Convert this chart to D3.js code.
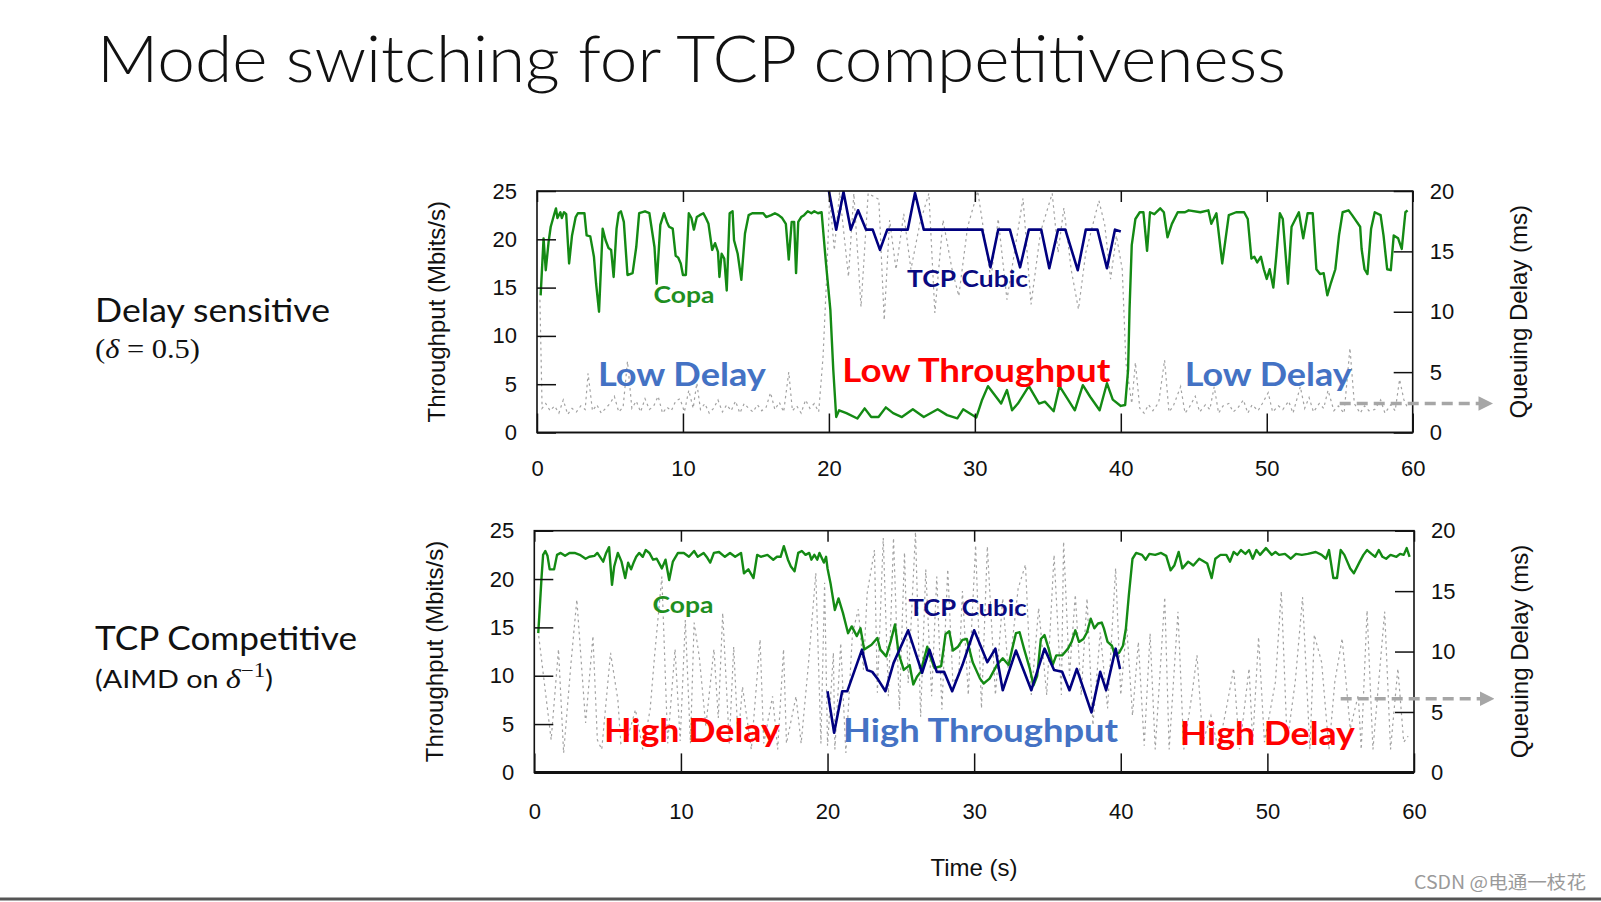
<!DOCTYPE html>
<html><head><meta charset="utf-8">
<script src="https://cdn.jsdelivr.net/npm/d3@7"></script>
<style>
html,body{margin:0;padding:0;background:#fff;}
svg{display:block;}
</style></head><body>
<svg id="c" width="1601" height="902"></svg>
<script>
// ---------- data ----------
const timeTicks = [0, 10, 20, 30, 40, 50, 60];
const throughputTicks = [0, 5, 10, 15, 20, 25];
const delayTicks = [0, 5, 10, 15, 20];

// Top panel (Delay sensitive): [time s, throughput Mbit/s]
const topCopa = [[0.25,14.2],[0.45,20.1],[0.6,16.8],[0.8,19.8],[0.94,21.3],[1.2,22.7],[1.3,23.2],[1.4,22.2],[1.6,22.8],[1.7,22.2],[1.85,22.8],[2.0,22.6],[2.2,17.5],[2.4,20.4],[2.65,22.3],[2.8,22.7],[3.25,22.7],[3.4,20.4],[3.65,20.3],[3.9,18.2],[4.05,15.4],[4.25,12.5],[4.5,21.1],[4.7,19.9],[4.9,19.1],[5.08,18.9],[5.25,16.1],[5.45,21.1],[5.6,22.7],[5.75,22.9],[5.95,21.8],[6.2,16.3],[6.55,16.5],[6.8,19.2],[7.0,22.7],[7.4,22.9],[7.7,22.7],[8.05,19.2],[8.2,15.4],[8.45,21.5],[8.7,22.7],[8.9,21.8],[9.05,21.3],[9.3,21.1],[9.5,18.3],[9.68,18.1],[9.85,17.5],[10.0,16.3],[10.2,16.3],[10.4,22.7],[10.58,22.2],[10.75,21.0],[10.95,22.3],[11.15,22.5],[11.4,22.7],[11.57,22.2],[11.75,21.6],[12.0,18.9],[12.2,19.6],[12.4,18.7],[12.5,16.1],[12.65,18.5],[12.83,18.0],[13.0,14.7],[13.2,22.7],[13.4,22.9],[13.5,19.9],[13.75,18.5],[14.0,15.8],[14.25,20.6],[14.5,22.5],[14.75,22.7],[15.5,22.7],[15.7,22.3],[16.05,22.5],[16.3,22.7],[16.55,22.5],[16.8,22.2],[17.05,21.6],[17.25,17.9],[17.45,21.8],[17.62,21.8],[17.75,16.5],[17.9,21.8],[18.1,22.3],[18.3,22.5],[18.55,22.9],[18.8,22.7],[19.0,22.9],[19.25,22.7],[19.5,22.8],[19.8,17.5],[20.1,12.7],[20.3,6.5],[20.5,1.6],[20.7,2.3],[21.2,2.0],[21.95,1.45],[22.45,2.5],[22.9,1.6],[23.4,1.6],[23.9,2.6],[24.4,2.0],[25.0,1.6],[25.75,2.4],[26.5,1.6],[27.45,2.4],[28.1,1.8],[28.8,1.46],[29.2,2.4],[30.1,1.56],[30.5,3.4],[30.9,4.8],[31.1,4.4],[31.8,3.0],[32.2,4.4],[32.55,2.3],[32.95,3.0],[33.7,4.8],[34.4,3.0],[34.8,3.2],[35.4,2.2],[35.8,4.8],[36.85,2.3],[37.4,4.9],[37.9,3.7],[38.55,2.3],[39.05,5.1],[39.45,3.4],[40.0,2.75],[40.3,2.85],[40.5,6.5],[40.6,12.8],[40.75,19.4],[41.0,22.1],[41.3,22.8],[41.55,22.8],[41.8,18.8],[42.0,22.8],[42.3,22.6],[42.7,23.2],[42.95,22.8],[43.2,20.2],[43.5,21.6],[43.9,22.8],[44.4,22.8],[44.65,23.0],[45.45,22.8],[46.0,23.0],[46.2,21.6],[46.55,22.7],[46.95,17.5],[47.4,22.5],[47.9,22.8],[48.45,22.8],[48.7,22.1],[48.95,18.0],[49.15,18.2],[49.35,17.6],[49.6,18.2],[49.8,16.9],[50.0,15.9],[50.2,16.9],[50.45,15.0],[50.65,18.2],[50.9,22.7],[51.1,22.1],[51.45,15.4],[51.7,21.3],[52.2,22.8],[52.5,20.1],[52.8,22.7],[53.15,22.7],[53.4,16.9],[53.65,16.4],[53.9,16.5],[54.15,14.2],[54.4,15.5],[54.7,16.9],[54.95,20.4],[55.2,22.8],[55.6,23.0],[55.85,22.5],[56.4,21.3],[56.5,19.0],[56.7,16.9],[56.9,16.4],[57.15,21.1],[57.4,22.8],[57.8,22.5],[58.0,20.4],[58.25,16.9],[58.5,16.8],[58.7,20.4],[59.0,20.1],[59.25,19.0],[59.5,22.8],[59.65,23.0]];

const topCubic = [[20.0,25.0],[20.5,21.0],[21.0,24.9],[21.5,21.0],[22.0,23.0],[22.55,21.0],[23.0,21.0],[23.5,18.9],[24.0,21.0],[25.4,21.0],[25.9,24.8],[26.5,21.0],[30.5,21.0],[31.07,17.1],[31.6,21.0],[32.4,21.0],[33.1,17.1],[33.7,21.0],[34.55,21.0],[35.1,17.0],[35.7,21.0],[36.2,21.0],[37.05,16.8],[37.6,21.0],[38.4,21.0],[39.05,17.0],[39.6,21.0],[40.0,20.8]];

// [time s, queuing delay ms]
const topDelay = [[0.2,11.0],[0.35,2.0],[0.6,2.4],[0.9,1.8],[1.2,2.2],[1.5,1.6],[1.8,2.7],[2.1,1.5],[2.4,2.0],[2.7,1.7],[3.0,2.2],[3.3,1.9],[3.5,4.9],[3.8,1.8],[4.1,2.3],[4.4,1.6],[4.7,2.0],[5.0,2.4],[5.3,3.0],[5.6,1.7],[5.9,2.1],[6.2,5.9],[6.5,2.0],[6.8,2.6],[7.1,1.7],[7.4,2.8],[7.7,1.9],[8.0,2.2],[8.3,3.0],[8.6,1.6],[8.9,2.1],[9.2,1.8],[9.5,2.6],[9.8,2.8],[10.1,1.7],[10.4,3.5],[10.7,2.0],[10.95,4.1],[11.2,1.9],[11.5,2.4],[11.8,1.6],[12.1,2.0],[12.4,2.7],[12.7,1.7],[13.0,2.3],[13.3,1.8],[13.6,2.6],[13.9,1.6],[14.2,2.4],[14.5,2.0],[14.8,1.7],[15.1,2.3],[15.4,1.8],[15.7,2.1],[16.0,3.3],[16.3,1.9],[16.6,2.5],[16.9,1.7],[17.25,5.0],[17.5,1.8],[17.8,2.2],[18.1,1.6],[18.4,2.7],[18.7,2.0],[19.0,2.4],[19.3,1.7],[19.6,6.3],[19.85,13.0],[20.05,19.5],[20.37,15.1],[20.73,19.9],[21.34,12.9],[21.71,19.8],[22.2,10.4],[22.69,19.8],[23.42,19.3],[23.79,9.3],[24.16,17.6],[24.6,13.5],[25.13,18.1],[25.62,13.5],[26.23,17.3],[26.85,19.8],[27.26,9.9],[27.82,17.6],[28.44,13.5],[28.9,11.3],[29.5,17.0],[30.2,20.0],[31.1,12.7],[31.6,17.7],[32.2,11.0],[33.3,19.4],[33.85,10.6],[34.5,16.6],[35.3,19.8],[35.7,14.9],[36.1,18.6],[36.6,13.5],[37.1,10.2],[37.6,14.9],[38.5,19.2],[38.9,17.2],[39.3,12.7],[39.7,16.3],[40.1,13.5],[40.35,5.8],[40.75,2.4],[41.0,5.8],[41.3,2.0],[41.6,1.6],[41.9,2.3],[42.2,1.8],[42.6,2.5],[43.0,6.0],[43.3,1.7],[43.6,2.2],[44.1,3.8],[44.4,1.6],[44.7,2.1],[45.1,3.0],[45.4,1.7],[45.8,2.3],[46.1,1.9],[46.4,3.8],[46.7,1.6],[47.0,2.2],[47.4,2.4],[47.7,1.7],[48.0,2.0],[48.4,2.7],[48.7,1.6],[49.0,2.3],[49.4,1.8],[49.7,2.4],[50.1,3.3],[50.4,1.7],[50.8,2.2],[51.1,1.9],[51.5,2.6],[51.8,1.6],[52.3,3.8],[52.6,2.0],[52.9,2.9],[53.2,1.7],[53.6,2.4],[53.9,2.0],[54.2,3.5],[54.6,1.8],[54.9,2.2],[55.3,1.6],[55.7,7.0],[56.0,2.4],[56.4,1.6],[56.7,2.2],[57.0,1.8],[57.4,1.9],[57.8,2.7],[58.1,1.6],[58.5,2.3],[58.8,1.8],[59.1,4.4],[59.4,2.7],[59.7,1.9]];

// Bottom panel (TCP competitive)
const botCopa = [[0.27,14.4],[0.5,20.3],[0.6,22.5],[0.75,22.9],[0.9,22.4],[1.05,21.0],[1.35,21.0],[1.55,22.5],[1.8,22.7],[2.1,22.4],[2.4,22.7],[2.75,22.7],[3.1,22.5],[3.5,22.1],[3.75,22.3],[4.1,22.4],[4.3,22.7],[4.7,21.8],[4.9,22.7],[5.1,23.3],[5.3,19.4],[5.45,21.3],[5.7,22.7],[5.95,21.8],[6.2,20.1],[6.4,21.7],[6.6,21.0],[6.8,21.8],[6.95,22.3],[7.15,22.7],[7.4,22.3],[7.6,23.0],[7.85,22.7],[8.1,22.0],[8.35,22.1],[8.7,21.1],[8.95,22.0],[9.2,19.9],[9.45,21.8],[9.8,22.7],[10.2,22.7],[10.55,22.3],[10.9,22.9],[11.15,22.3],[11.55,22.7],[11.8,22.2],[12.0,21.7],[12.25,22.7],[12.6,22.8],[13.0,22.3],[13.35,22.7],[13.7,22.3],[14.1,22.7],[14.3,20.6],[14.6,21.0],[14.95,20.1],[15.2,22.5],[15.45,22.3],[15.9,22.5],[16.3,22.0],[16.55,22.3],[16.8,22.3],[17.02,23.4],[17.3,22.0],[17.5,21.3],[17.75,20.8],[18.0,22.7],[18.25,22.9],[18.5,22.5],[18.75,22.7],[18.9,22.0],[19.1,22.5],[19.3,22.0],[19.45,22.7],[19.75,21.7],[19.9,22.3],[20.0,21.1],[20.2,19.6],[20.5,16.8],[20.75,18.0],[21.05,16.5],[21.4,14.4],[21.65,15.1],[22.0,14.1],[22.25,14.9],[22.5,12.7],[23.0,13.2],[23.4,13.9],[23.6,12.7],[24.0,12.0],[24.3,13.5],[24.6,15.3],[24.85,12.3],[25.2,10.6],[25.6,11.1],[25.85,9.1],[26.1,9.9],[26.35,10.4],[26.8,13.0],[27.0,12.0],[27.3,10.8],[27.75,11.0],[28.05,14.3],[28.3,14.6],[28.55,12.6],[28.9,13.0],[29.2,13.7],[29.5,13.8],[29.9,11.4],[30.4,9.7],[30.65,9.2],[31.05,9.7],[31.55,11.1],[31.95,11.8],[32.35,11.1],[32.6,12.8],[32.85,14.4],[33.1,14.5],[33.4,12.8],[33.8,10.7],[34.05,9.0],[34.3,10.0],[34.55,13.8],[34.8,14.2],[35.1,12.7],[35.35,11.1],[35.6,12.1],[36.0,12.1],[36.4,12.8],[36.65,13.5],[36.9,14.7],[37.15,13.5],[37.45,13.8],[37.7,14.5],[37.95,15.9],[38.2,14.9],[38.45,15.4],[38.7,15.5],[38.85,14.9],[39.1,13.5],[39.4,13.1],[39.6,12.1],[39.9,12.4],[40.15,13.1],[40.35,14.9],[40.55,18.3],[40.8,22.1],[41.05,22.7],[41.45,22.5],[41.7,22.0],[41.95,22.6],[42.35,22.5],[42.75,22.7],[43.1,22.4],[43.4,20.9],[43.65,21.4],[43.95,22.8],[44.2,21.1],[44.6,21.8],[44.95,21.4],[45.35,22.1],[45.9,21.6],[46.2,20.1],[46.45,22.1],[46.8,22.5],[47.2,22.5],[47.45,21.8],[47.7,22.8],[47.95,22.5],[48.2,23.0],[48.5,22.6],[48.75,23.0],[49.0,22.1],[49.25,23.0],[49.5,22.5],[49.9,23.2],[50.3,22.5],[50.55,22.8],[50.8,22.5],[51.2,22.6],[51.6,22.1],[51.95,22.6],[52.35,22.5],[52.75,22.6],[53.3,22.8],[53.7,22.5],[54.0,22.1],[54.2,23.0],[54.5,20.1],[54.75,20.1],[55.0,23.0],[55.25,22.5],[55.65,21.1],[55.9,20.6],[56.3,21.8],[56.55,22.5],[56.8,23.0],[57.1,22.6],[57.35,22.3],[57.6,23.0],[57.85,22.3],[58.1,22.1],[58.4,22.5],[58.8,22.3],[59.05,22.6],[59.3,22.5],[59.5,23.2],[59.7,22.3]];

const botCubic = [[20.0,8.4],[20.45,4.1],[21.0,8.4],[21.35,8.4],[22.35,12.7],[22.7,10.6],[23.05,10.4],[23.45,9.6],[23.95,8.4],[24.5,11.3],[25.5,14.7],[26.45,10.3],[26.95,12.7],[27.45,10.4],[27.95,10.4],[28.5,8.4],[29.2,11.1],[30.0,14.7],[30.9,11.4],[31.45,12.8],[31.95,8.5],[32.85,12.6],[33.9,8.5],[34.8,12.8],[35.45,10.6],[36.0,10.4],[36.5,8.5],[37.0,10.7],[38.0,6.2],[38.6,10.4],[39.0,8.5],[39.65,12.8],[39.95,10.7]];

const botDelay = [[0.3,11.3],[1.15,2.7],[1.65,10.2],[2.0,1.6],[2.5,9.0],[2.9,14.3],[3.5,4.1],[4.0,11.3],[4.3,2.7],[4.6,1.9],[5.2,9.9],[5.7,6.0],[5.9,2.4],[6.4,3.0],[6.9,5.2],[7.4,1.9],[7.9,5.2],[8.2,9.6],[8.7,16.2],[9.1,2.4],[9.6,10.2],[9.95,2.6],[10.3,12.6],[10.65,2.4],[10.9,12.4],[11.25,9.6],[11.7,3.8],[12.25,10.2],[12.55,4.5],[12.85,13.2],[13.3,2.4],[13.6,10.4],[13.9,2.7],[14.2,7.1],[14.8,1.9],[15.4,11.0],[15.65,2.4],[16.25,6.3],[16.6,1.9],[17.0,10.2],[17.2,2.4],[17.85,6.3],[18.2,2.4],[18.7,9.0],[19.2,16.5],[19.55,2.4],[19.8,15.7],[20.0,2.2],[20.4,9.9],[20.5,1.9],[20.9,10.7],[21.25,1.6],[21.7,11.5],[22.1,13.5],[22.45,8.5],[22.7,14.8],[23.2,18.4],[23.4,6.6],[23.8,19.4],[24.15,6.3],[24.5,19.4],[24.9,5.2],[25.25,18.2],[25.5,7.4],[26.0,19.9],[26.35,4.6],[26.7,16.8],[27.1,6.3],[27.45,16.2],[27.8,5.2],[28.2,16.8],[28.55,7.4],[28.95,8.0],[29.2,15.0],[29.6,6.4],[30.1,18.8],[30.5,5.3],[30.9,18.7],[31.45,6.4],[31.95,14.4],[32.35,8.0],[33.0,15.2],[33.5,17.2],[33.9,6.4],[34.4,13.6],[34.95,6.4],[35.45,18.0],[35.95,6.4],[36.1,19.1],[36.5,8.0],[36.9,14.7],[37.3,6.4],[37.7,14.4],[38.1,3.9],[38.6,11.6],[39.1,5.3],[39.65,16.9],[40.0,6.4],[40.4,12.2],[40.8,4.7],[41.2,10.8],[41.6,2.2],[42.0,11.5],[42.35,1.9],[43.0,14.5],[43.3,1.9],[43.9,13.3],[44.3,1.9],[44.85,6.4],[45.2,9.7],[45.6,2.5],[46.15,4.7],[46.65,1.9],[47.2,5.3],[47.7,8.6],[48.1,1.9],[48.75,8.6],[49.0,2.5],[49.4,11.2],[49.8,2.5],[50.55,7.5],[50.95,15.0],[51.35,2.5],[51.9,7.5],[52.4,14.5],[52.9,1.9],[53.2,11.4],[53.7,9.1],[54.2,1.9],[54.6,7.5],[55.1,11.1],[55.65,3.6],[56.2,6.4],[56.4,1.9],[56.8,13.4],[57.2,1.9],[58.0,13.3],[58.4,1.9],[58.9,8.6],[59.3,2.5],[59.6,3.0]];

// ---------- drawing ----------
const svg = d3.select("#c");
const tickFont = "'Liberation Sans', Arial, sans-serif";
const calibri = "Lato, 'Open Sans', sans-serif";

svg.append("text").attr("x", 97).attr("y", 82)
  .attr("font-family", calibri).attr("font-weight", 300).attr("font-size", 66)
  .attr("textLength", 1189).attr("lengthAdjust", "spacingAndGlyphs")
  .attr("fill", "#111").text("Mode switching for TCP competitiveness");

// left descriptions
svg.append("text").attr("x", 95).attr("y", 322).attr("font-family", calibri).attr("font-size", 33)
  .attr("textLength", 235).attr("lengthAdjust", "spacingAndGlyphs").attr("fill", "#111").text("Delay sensitive");
const d1 = svg.append("text").attr("x", 95).attr("y", 358).attr("font-family", "'Liberation Serif', serif")
  .attr("font-size", 27).attr("textLength", 105).attr("lengthAdjust", "spacingAndGlyphs").attr("fill", "#111");
d1.append("tspan").text("(");
d1.append("tspan").attr("font-style", "italic").text("δ");
d1.append("tspan").text(" = 0.5)");

svg.append("text").attr("x", 95).attr("y", 650).attr("font-family", calibri).attr("font-size", 33)
  .attr("textLength", 262).attr("lengthAdjust", "spacingAndGlyphs").attr("fill", "#111").text("TCP Competitive");
const d2 = svg.append("text").attr("x", 95).attr("y", 688).attr("font-size", 25)
  .attr("textLength", 178).attr("lengthAdjust", "spacingAndGlyphs").attr("fill", "#111");
d2.append("tspan").attr("font-family", calibri).text("(AIMD on ");
d2.append("tspan").attr("font-family", "'Liberation Serif', serif").attr("font-style", "italic").attr("font-size", 28).text("δ");
d2.append("tspan").attr("font-family", "'Liberation Serif', serif").attr("font-size", 20).attr("dy", -11).text("−1");
d2.append("tspan").attr("font-family", calibri).attr("dy", 11).text(")");

const panels = [
  { box: {x0: 537, x1: 1412.7, y0: 191, y1: 432.5}, copa: topCopa, cubic: topCubic, delay: topDelay,
    xPad: 28, bottomStroke: 1.6, arrowDelay: 2.4,
    labels: [
      {t: 10.07, v: 13.4, text: "Copa", color: "#1f8f1f", size: 23, w: 61},
      {t: 29.5, v: 15.07, text: "TCP Cubic", color: "#0a0a80", size: 23, w: 121},
      {t: 9.93, v: 4.83, text: "Low Delay", color: "#4472C4", size: 32, w: 168},
      {t: 30.1, v: 5.25, text: "Low Throughput", color: "#FF0000", size: 32, w: 268},
      {t: 50.1, v: 4.83, text: "Low Delay", color: "#4472C4", size: 32, w: 167}
    ]},
  { box: {x0: 534.3, x1: 1414, y0: 530.7, y1: 772.4}, copa: botCopa, cubic: botCubic, delay: botDelay,
    xPad: 31, bottomStroke: 3, arrowDelay: 6.1,
    labels: [
      {t: 10.14, v: 16.5, text: "Copa", color: "#1f8f1f", size: 23, w: 61},
      {t: 29.55, v: 16.2, text: "TCP Cubic", color: "#0a0a80", size: 23, w: 118},
      {t: 10.75, v: 3.18, text: "High Delay", color: "#FF0000", size: 32, w: 176},
      {t: 30.44, v: 3.14, text: "High Throughput", color: "#4472C4", size: 32, w: 275},
      {t: 50.0, v: 2.83, text: "High Delay", color: "#FF0000", size: 32, w: 175}
    ]}
];

const defs = svg.append("defs");
defs.append("marker").attr("id", "ah").attr("viewBox", "0 0 10 10").attr("refX", 9).attr("refY", 5)
  .attr("markerWidth", 4.2).attr("markerHeight", 4.2).attr("markerUnits", "strokeWidth").attr("orient", "auto")
  .append("path").attr("d", "M0,0 L10,5 L0,10 z").attr("fill", "#a6a6a6");

panels.forEach((p, i) => {
  const b = p.box;
  const x = d3.scaleLinear().domain([0, 60]).range([b.x0, b.x1]);
  const yT = d3.scaleLinear().domain([0, 25]).range([b.y1, b.y0]);
  const yD = d3.scaleLinear().domain([0, 20]).range([b.y1, b.y0]);
  const g = svg.append("g");

  defs.append("clipPath").attr("id", "clip" + i).append("rect")
    .attr("x", b.x0).attr("y", b.y0).attr("width", b.x1 - b.x0).attr("height", b.y1 - b.y0);

  const plot = g.append("g").attr("clip-path", `url(#clip${i})`);
  plot.append("path").datum(p.delay)
    .attr("d", d3.line().x(d => x(d[0])).y(d => yD(d[1])))
    .attr("fill", "none").attr("stroke", "#a2a2a2").attr("stroke-width", 1.2).attr("stroke-dasharray", "2.5,3.5");
  plot.append("path").datum(p.copa)
    .attr("d", d3.line().x(d => x(d[0])).y(d => yT(d[1])))
    .attr("fill", "none").attr("stroke", "#148a14").attr("stroke-width", 2.4).attr("stroke-linejoin", "round");
  plot.append("path").datum(p.cubic)
    .attr("d", d3.line().x(d => x(d[0])).y(d => yT(d[1])))
    .attr("fill", "none").attr("stroke", "#00007f").attr("stroke-width", 2.6).attr("stroke-linejoin", "round");

  // axes
  const styleAxis = sel => {
    sel.select(".domain").remove();
    sel.selectAll(".tick line").attr("stroke", "#111").attr("stroke-width", 1.5);
    sel.selectAll("text").attr("fill", "#111");
    sel.attr("font-family", tickFont).attr("font-size", 22);
  };
  g.append("g").attr("transform", `translate(${b.x0},0)`)
    .call(d3.axisLeft(yT).tickValues(throughputTicks).tickSize(-19).tickSizeOuter(0).tickPadding(20)).call(styleAxis);
  g.append("g").attr("transform", `translate(${b.x1},0)`)
    .call(d3.axisRight(yD).tickValues(delayTicks).tickSize(-19).tickSizeOuter(0).tickPadding(17)).call(styleAxis);
  g.append("g").attr("transform", `translate(0,${b.y1})`)
    .call(d3.axisBottom(x).tickValues(timeTicks).tickSize(-19).tickSizeOuter(0).tickPadding(p.xPad)).call(styleAxis);
  g.append("g").attr("transform", `translate(0,${b.y0})`)
    .call(d3.axisTop(x).tickValues(timeTicks).tickSize(-11).tickSizeOuter(0).tickFormat("")).call(styleAxis);

  // frame
  g.append("rect").attr("x", b.x0).attr("y", b.y0).attr("width", b.x1 - b.x0).attr("height", b.y1 - b.y0)
    .attr("fill", "none").attr("stroke", "#111").attr("stroke-width", 1.6);
  g.append("line").attr("x1", b.x0).attr("x2", b.x1).attr("y1", b.y1).attr("y2", b.y1)
    .attr("stroke", "#111").attr("stroke-width", p.bottomStroke);

  // axis titles
  const cy = (b.y0 + b.y1) / 2;
  g.append("text").attr("transform", `translate(${b.x0 - 100},${cy}) rotate(-90)`)
    .attr("text-anchor", "middle").attr("dy", "0.35em")
    .attr("font-family", tickFont).attr("font-size", 24).attr("fill", "#111").text("Throughput (Mbits/s)");
  g.append("text").attr("transform", `translate(${b.x1 + 106},${cy}) rotate(-90)`)
    .attr("text-anchor", "middle").attr("dy", "0.35em")
    .attr("font-family", tickFont).attr("font-size", 24).attr("fill", "#111").text("Queuing Delay (ms)");

  // labels
  p.labels.forEach(l => {
    g.append("text").attr("x", x(l.t)).attr("y", yT(l.v)).attr("text-anchor", "middle")
      .attr("font-family", calibri).attr("font-weight", 700).attr("font-size", l.size)
      .attr("textLength", l.w).attr("lengthAdjust", "spacingAndGlyphs")
      .attr("fill", l.color).text(l.text);
  });

  // arrow to right axis
  g.append("line").attr("x1", x(55)).attr("x2", b.x1 + 79)
    .attr("y1", yD(p.arrowDelay)).attr("y2", yD(p.arrowDelay))
    .attr("stroke", "#a6a6a6").attr("stroke-width", 3.5).attr("stroke-dasharray", "11,6")
    .attr("marker-end", "url(#ah)");
});

svg.append("text").attr("x", 974).attr("y", 876).attr("text-anchor", "middle")
  .attr("font-family", tickFont).attr("font-size", 24).attr("fill", "#111").text("Time (s)");

svg.append("text").attr("x", 1586).attr("y", 889).attr("text-anchor", "end")
  .attr("font-family", "'Noto Sans CJK SC', sans-serif").attr("font-size", 18)
  .attr("textLength", 172).attr("lengthAdjust", "spacingAndGlyphs")
  .attr("fill", "#9a9a9a").text("CSDN @电通一枝花");

svg.append("line").attr("x1", 0).attr("x2", 1601).attr("y1", 899).attr("y2", 899)
  .attr("stroke", "#555").attr("stroke-width", 3);
</script>
</body></html>
